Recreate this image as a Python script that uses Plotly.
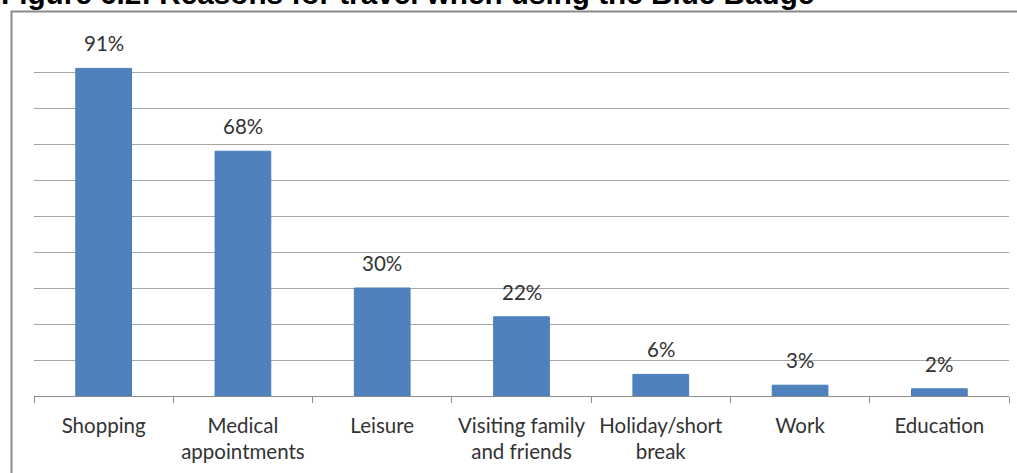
import plotly.graph_objects as go

# Reasons for travel when using the Blue Badge (% of respondents)
categories = [
    "Shopping",
    "Medical<br>appointments",
    "Leisure",
    "Visiting family<br>and friends",
    "Holiday/short<br>break",
    "Work",
    "Education",
]
values = [91, 68, 30, 22, 6, 3, 2]
value_labels = ["91%", "68%", "30%", "22%", "6%", "3%", "2%"]

title_text = "Figure 6.2: Reasons for travel when using the Blue Badge"

W, H = 1017, 473
ML, MR, MT, MB = 34, 8, 36, 77
plot_w = W - ML - MR
plot_h = H - MT - MB


def px_x(px):
    return (px - ML) / plot_w


def px_y(py):
    return (H - MB - py) / plot_h


text_color = "#333333"
label_font = dict(family="Lato, Open Sans, sans-serif", size=20.5, color=text_color)

fig = go.Figure()
fig.add_trace(
    go.Bar(
        x=categories,
        y=values,
        marker=dict(color="#4F81BD", line=dict(color="#4A7EBB", width=1)),
        width=0.4,
        hoverinfo="skip",
    )
)

# value labels above each bar
for cat, v, lab in zip(categories, values, value_labels):
    fig.add_annotation(
        x=cat, y=v, text=lab, showarrow=False,
        xanchor="center", yanchor="bottom", yshift=11,
        font=dict(family="Lato, Open Sans, sans-serif", size=20.5, color=text_color),
    )

# outer frame around the chart (right and bottom sides run off the page)
fig.add_shape(
    type="rect", xref="paper", yref="paper",
    x0=px_x(11.5), x1=px_x(1080), y0=px_y(520), y1=px_y(11.5),
    line=dict(color="#8A8A8A", width=2), fillcolor="rgba(0,0,0,0)", layer="below",
)

# figure heading
fig.add_annotation(
    xref="paper", yref="paper", x=px_x(-1), y=px_y(-6),
    text="<b>" + title_text + "</b>", showarrow=False,
    xanchor="left", yanchor="middle",
    font=dict(family="Liberation Sans, Arial, sans-serif", size=29.7, color="#000000"),
)

fig.update_layout(
    width=W, height=H,
    margin=dict(l=ML, r=MR, t=MT, b=MB, pad=0),
    paper_bgcolor="white", plot_bgcolor="white",
    showlegend=False,
    bargap=0.6,
    xaxis=dict(
        type="category",
        showline=True, linecolor="#8C8C8C", linewidth=1,
        ticks="outside", tickson="boundaries", ticklen=6, tickcolor="#8C8C8C",
        tickfont=label_font,
        showgrid=False,
        ticklabelstandoff=11,
    ),
    yaxis=dict(
        range=[0, 100], dtick=10,
        showticklabels=False, showline=False, zeroline=False,
        showgrid=True, gridcolor="#A6A6A6", gridwidth=1,
    ),
)

fig.write_html("out.html")
